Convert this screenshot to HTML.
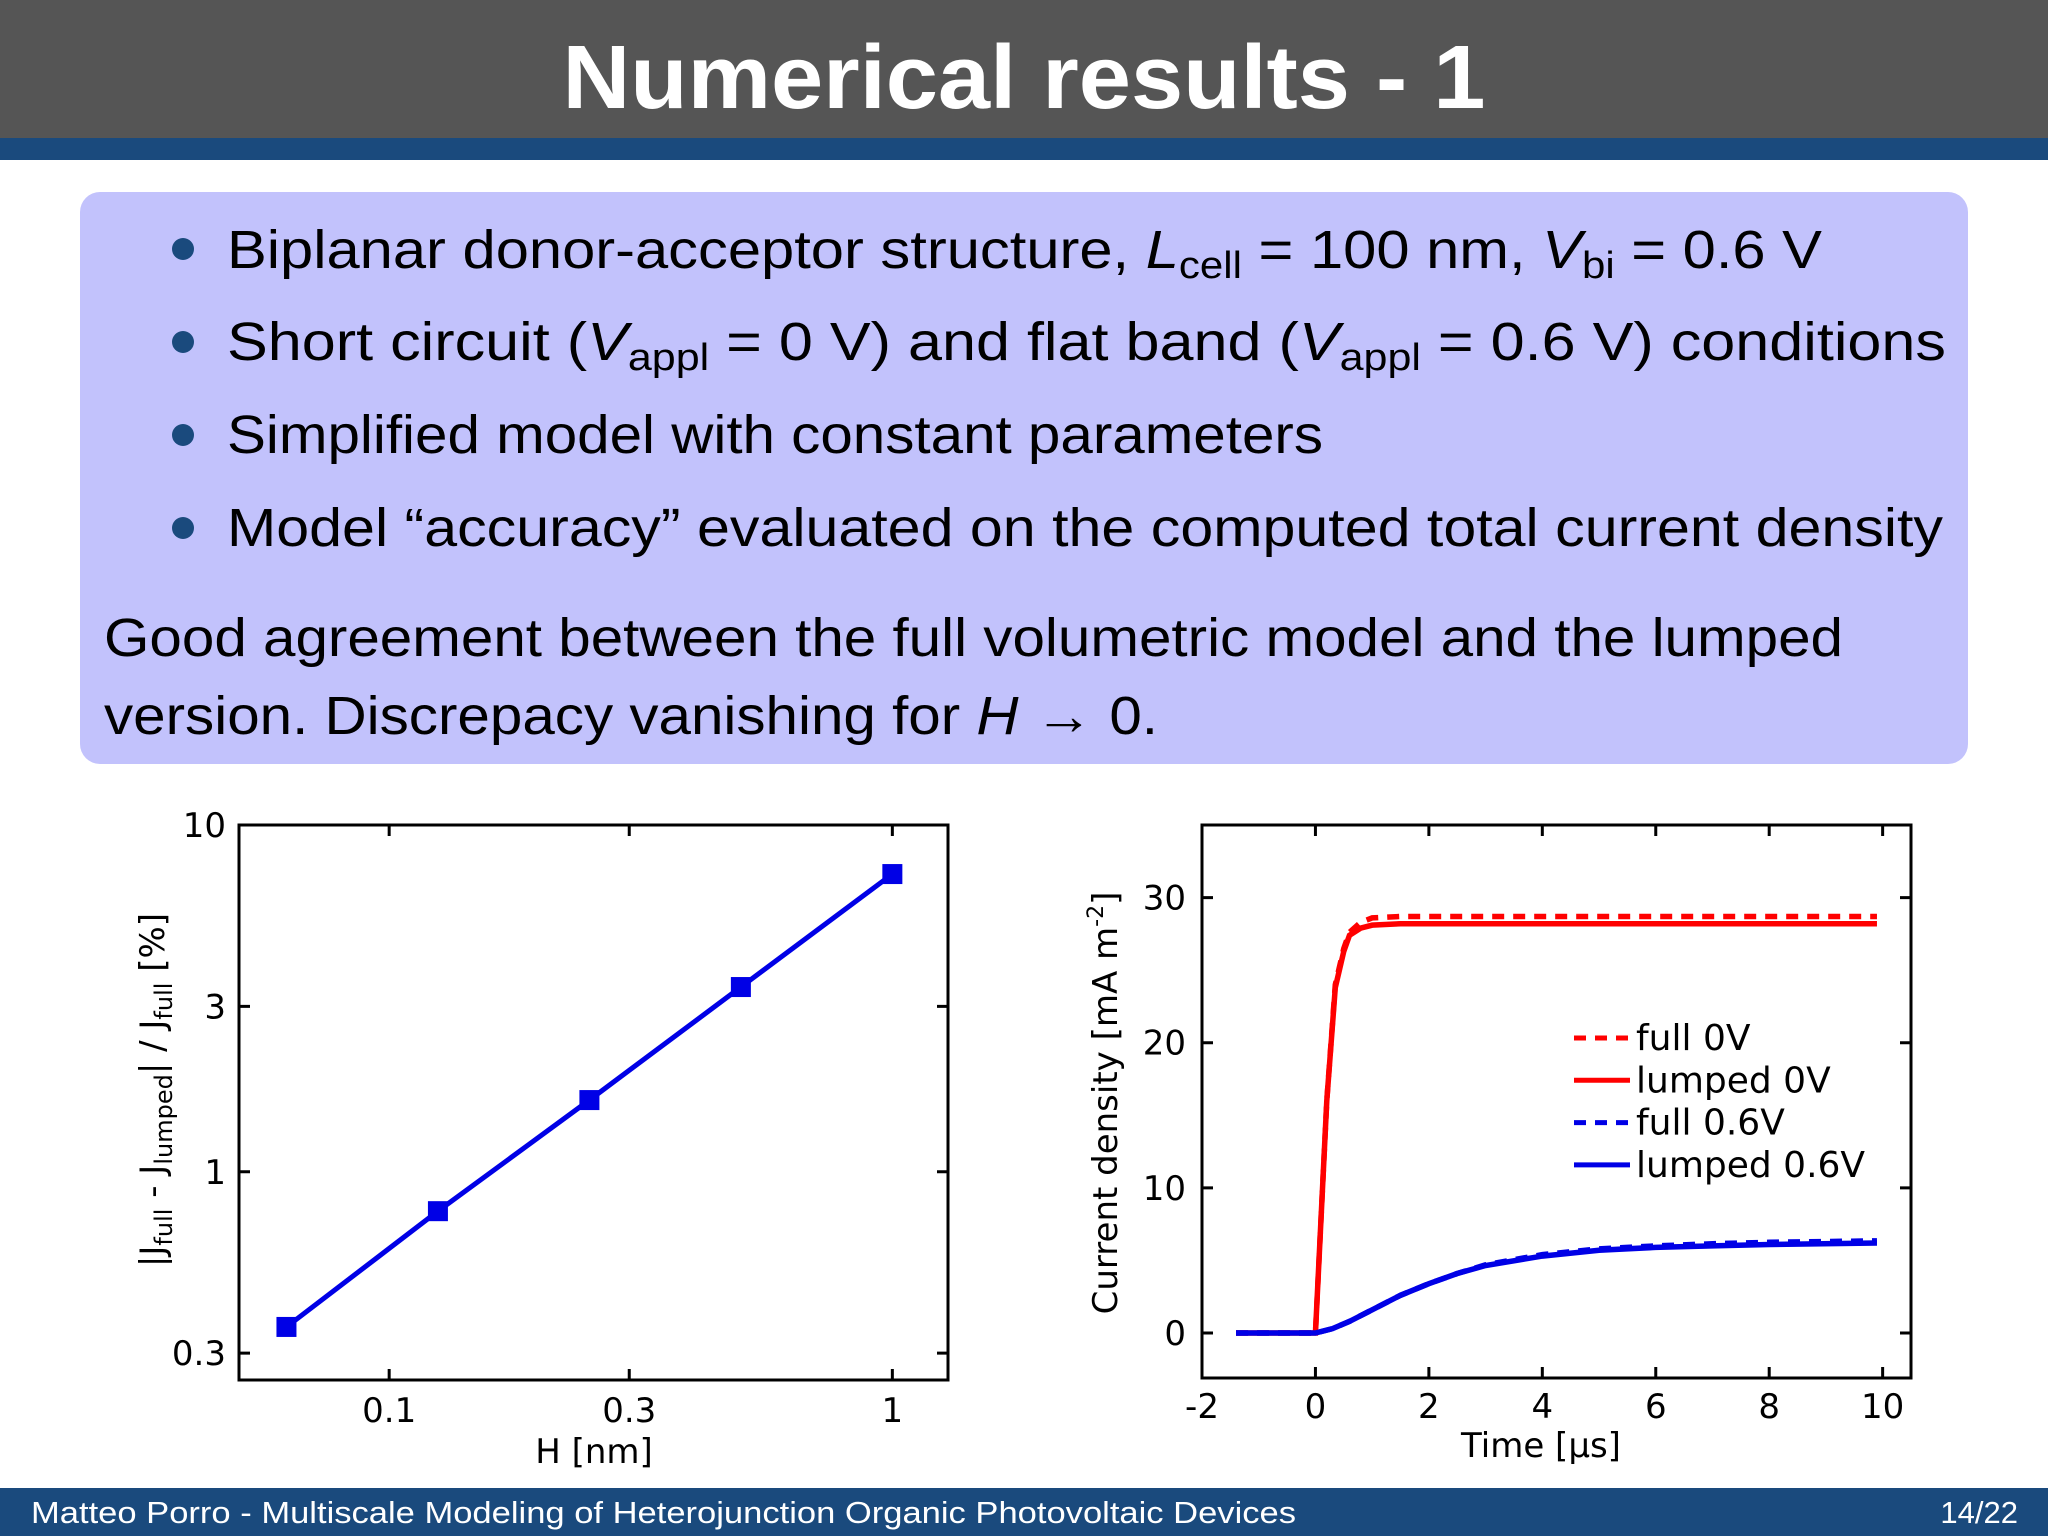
<!DOCTYPE html>
<html><head><meta charset="utf-8"><style>
html,body{margin:0;padding:0;background:#fff}
svg{display:block}
text{font-family:"Liberation Sans","DejaVu Sans",sans-serif}
.ax text{font-family:"DejaVu Sans","Liberation Sans",sans-serif}
</style></head><body>
<svg width="2048" height="1536" viewBox="0 0 2048 1536" xmlns="http://www.w3.org/2000/svg">
<rect x="0" y="0" width="2048" height="138" fill="#555555"/>
<rect x="0" y="138" width="2048" height="22" fill="#1a4a7d"/>
<text x="1024" y="108" text-anchor="middle" font-size="90" font-weight="bold" fill="#fff" textLength="923" lengthAdjust="spacingAndGlyphs">Numerical results - 1</text>

<rect x="80" y="192" width="1888" height="572" rx="20" fill="#c2c2fc"/>
<g font-size="54" fill="#000">
<circle cx="183" cy="249" r="11" fill="#1a4a7d"/>
<text x="227" y="268" textLength="1595" lengthAdjust="spacingAndGlyphs">Biplanar donor-acceptor structure, <tspan font-style="italic">L</tspan><tspan font-size="38" dy="10">cell</tspan><tspan dy="-10"> = 100 nm, </tspan><tspan font-style="italic">V</tspan><tspan font-size="38" dy="10">bi</tspan><tspan dy="-10"> = 0.6 V</tspan></text>
<circle cx="183" cy="342" r="11" fill="#1a4a7d"/>
<text x="227" y="360" textLength="1719" lengthAdjust="spacingAndGlyphs">Short circuit (<tspan font-style="italic">V</tspan><tspan font-size="38" dy="10">appl</tspan><tspan dy="-10"> = 0 V) and flat band (</tspan><tspan font-style="italic">V</tspan><tspan font-size="38" dy="10">appl</tspan><tspan dy="-10"> = 0.6 V) conditions</tspan></text>
<circle cx="183" cy="435" r="11" fill="#1a4a7d"/>
<text x="227" y="453" textLength="1096" lengthAdjust="spacingAndGlyphs">Simplified model with constant parameters</text>
<circle cx="183" cy="528" r="11" fill="#1a4a7d"/>
<text x="227" y="546" textLength="1716" lengthAdjust="spacingAndGlyphs">Model “accuracy” evaluated on the computed total current density</text>
<text x="104" y="656" textLength="1739" lengthAdjust="spacingAndGlyphs">Good agreement between the full volumetric model and the lumped</text>
<text x="104" y="734" textLength="1054" lengthAdjust="spacingAndGlyphs">version. Discrepacy vanishing for <tspan font-style="italic">H</tspan> → 0.</text>
</g>

<g id="chart1" class="ax"></g>
<g id="chart2" class="ax"></g>

<rect x="0" y="1488" width="2048" height="48" fill="#1a4a7d"/>
<text x="31" y="1523" font-size="31" fill="#fff" textLength="1265" lengthAdjust="spacingAndGlyphs">Matteo Porro - Multiscale Modeling of Heterojunction Organic Photovoltaic Devices</text>
<text x="2018" y="1523" font-size="31" fill="#fff" text-anchor="end">14/22</text>
</svg>
<script>
// Chart 1 data
const hValues = [0.0625, 0.125, 0.25, 0.5, 1];
const errValues = [0.357, 0.77, 1.61, 3.41, 7.22];
const xTicks1 = [0.1, 0.3, 1];
const xTickLabels1 = ["0.1", "0.3", "1"];
const yTicks1 = [0.3, 1, 3, 10];
const yTickLabels1 = ["0.3", "1", "3", "10"];
// Chart 2 data
const timeVals = [-1.4, 0, 0.1, 0.2, 0.35, 0.5, 0.6, 0.8, 1, 1.5, 2, 4, 6, 8, 9.9];
const fullOV = [0, 0, 8, 16, 24, 26.5, 27.6, 28.3, 28.6, 28.7, 28.7, 28.7, 28.7, 28.7, 28.7];
const lumpedOV = [0, 0, 8, 16, 23.8, 26.3, 27.4, 27.9, 28.1, 28.2, 28.2, 28.2, 28.2, 28.2, 28.2];
const timeB = [-1.4, 0, 0.3, 0.6, 1, 1.5, 2, 2.5, 3, 4, 5, 6, 7, 8, 9.9];
const full06 = [0, 0, 0.3, 0.8, 1.6, 2.6, 3.4, 4.1, 4.7, 5.4, 5.8, 6.0, 6.15, 6.25, 6.35];
const lumped06 = [0, 0, 0.3, 0.8, 1.6, 2.6, 3.4, 4.1, 4.65, 5.3, 5.7, 5.9, 6.0, 6.1, 6.2];
const xTicks2 = [-2, 0, 2, 4, 6, 8, 10];
const yTicks2 = [0, 10, 20, 30];
const legendLabels = ["full 0V", "lumped 0V", "full 0.6V", "lumped 0.6V"];

const NS = "http://www.w3.org/2000/svg";
function mk(tag, attrs, parent) {
  const e = document.createElementNS(NS, tag);
  for (const k in attrs) e.setAttribute(k, attrs[k]);
  parent.appendChild(e);
  return e;
}

// ---- Chart 1 (log-log)
const g1 = document.getElementById('chart1');
const L1 = 239, R1 = 948, T1 = 825, B1 = 1380;
const xl0 = Math.log10(0.0503), xl1 = Math.log10(1.29);
const yl0 = Math.log10(0.251), yl1 = 1;
const x1 = v => L1 + (Math.log10(v) - xl0) / (xl1 - xl0) * (R1 - L1);
const y1 = v => B1 - (Math.log10(v) - yl0) / (yl1 - yl0) * (B1 - T1);

let f = mk('rect', {x: L1, y: T1, width: R1 - L1, height: B1 - T1, fill: 'none', stroke: '#000', 'stroke-width': 3}, g1);


xTicks1.forEach((t, i) => {
  const X = x1(t);
  let tk = mk('path', {d: `M${X},${B1}v-11M${X},${T1}v11`, stroke: '#000', 'stroke-width': 3}, g1);
  
  
  let tl = mk('text', {x: X, y: 1422, 'font-size': 34, 'text-anchor': 'middle'}, g1);
  tl.textContent = xTickLabels1[i];
  
  
});
yTicks1.forEach((t, i) => {
  const Y = y1(t);
  let tk = mk('path', {d: `M${L1},${Y}h11M${R1},${Y}h-11`, stroke: '#000', 'stroke-width': 3}, g1);
  
  
  let tl = mk('text', {x: 226, y: Y + 12, 'font-size': 34, 'text-anchor': 'end'}, g1);
  tl.textContent = yTickLabels1[i];
  
  
});
let xt1 = mk('text', {x: 594, y: 1463, 'font-size': 34, 'text-anchor': 'middle'}, g1);
xt1.textContent = 'H [nm]';


let yt1 = mk('text', {x: 0, y: 0, 'font-size': 34, 'text-anchor': 'middle', transform: 'translate(164,1090) rotate(-90)'}, g1);
yt1.innerHTML = '|J<tspan font-size="24" dy="8">full</tspan><tspan dy="-8"> - J</tspan><tspan font-size="24" dy="8">lumped</tspan><tspan dy="-8">| / J</tspan><tspan font-size="24" dy="8">full</tspan><tspan dy="-8"> [%]</tspan>';


let ln1 = mk('polyline', {points: hValues.map((h, i) => x1(h) + ',' + y1(errValues[i])).join(' '), fill: 'none', stroke: '#0000e6', 'stroke-width': 5}, g1);


hValues.forEach((h, i) => {
  let m = mk('rect', {x: x1(h) - 10, y: y1(errValues[i]) - 10, width: 20, height: 20, fill: '#0000e6'}, g1);
  
  
});

// ---- Chart 2
const g2 = document.getElementById('chart2');
const L2 = 1202, R2 = 1911, T2 = 825, B2 = 1378;
const xmin = -2, xmax = 10.5, ymin = -3.1, ymax = 35;
const x2 = v => L2 + (v - xmin) / (xmax - xmin) * (R2 - L2);
const y2 = v => B2 - (v - ymin) / (ymax - ymin) * (B2 - T2);
f = mk('rect', {x: L2, y: T2, width: R2 - L2, height: B2 - T2, fill: 'none', stroke: '#000', 'stroke-width': 3}, g2);


xTicks2.forEach(t => {
  const X = x2(t);
  let tk = mk('path', {d: `M${X},${B2}v-11M${X},${T2}v11`, stroke: '#000', 'stroke-width': 3}, g2);
  
  
  let tl = mk('text', {x: X, y: 1418, 'font-size': 34, 'text-anchor': 'middle'}, g2);
  tl.textContent = String(t);
  
  
});
yTicks2.forEach(t => {
  const Y = y2(t);
  let tk = mk('path', {d: `M${L2},${Y}h11M${R2},${Y}h-11`, stroke: '#000', 'stroke-width': 3}, g2);
  
  
  let tl = mk('text', {x: 1186, y: Y + 12, 'font-size': 34, 'text-anchor': 'end'}, g2);
  tl.textContent = String(t);
  
  
});
let xt2 = mk('text', {x: 1541, y: 1457, 'font-size': 34, 'text-anchor': 'middle'}, g2);
xt2.textContent = 'Time [µs]';


let yt2 = mk('text', {x: 0, y: 0, 'font-size': 34, 'text-anchor': 'middle', transform: 'translate(1117,1103) rotate(-90)'}, g2);
yt2.innerHTML = 'Current density [mA m<tspan font-size="22" dy="-14">-2</tspan><tspan dy="14">]</tspan>';


const series = [
  {xs: timeVals, ys: fullOV, c: '#ff0000', dash: '12,9', name: 'full-0v-line'},
  {xs: timeVals, ys: lumpedOV, c: '#ff0000', dash: '', name: 'lumped-0v-line'},
  {xs: timeB, ys: full06, c: '#0000e6', dash: '12,9', name: 'full-0.6v-line'},
  {xs: timeB, ys: lumped06, c: '#0000e6', dash: '', name: 'lumped-0.6v-line'}
];
series.forEach(s => {
  const a = {points: s.xs.map((t, i) => x2(t) + ',' + y2(s.ys[i])).join(' '), fill: 'none', stroke: s.c, 'stroke-width': 5.5};
  if (s.dash) a['stroke-dasharray'] = s.dash;
  let p = mk('polyline', a, g2);
  
  
});
const legCols = ['#ff0000', '#ff0000', '#0000e6', '#0000e6'];
const legDash = ['12,9', '', '12,9', ''];
legendLabels.forEach((lab, i) => {
  const Y = 1038 + i * 42.3;
  const a = {d: `M1574,${Y}H1630`, stroke: legCols[i], 'stroke-width': 5};
  if (legDash[i]) a['stroke-dasharray'] = legDash[i];
  let p = mk('path', a, g2);
  
  
  let t = mk('text', {x: 1636, y: Y + 12, 'font-size': 36}, g2);
  t.textContent = lab;
  
  
});
</script>
</body></html>
